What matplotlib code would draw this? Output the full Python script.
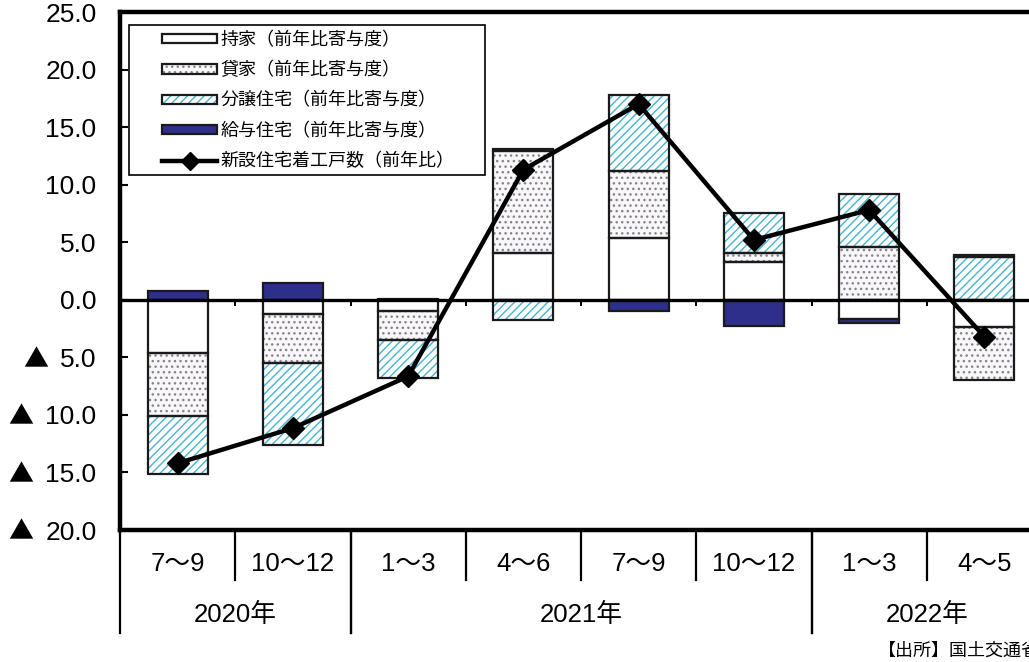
import numpy as np
import matplotlib
matplotlib.use("Agg")
import matplotlib.pyplot as plt
from matplotlib.patches import Patch, Rectangle
from matplotlib.lines import Line2D

plt.rcParams['font.family'] = ['Liberation Sans', 'Noto Sans CJK JP', 'DejaVu Sans']
plt.rcParams['hatch.linewidth'] = 1.0

# 四半期ごとの寄与度（%ポイント）
periods = ['7～9', '10～12', '1～3', '4～6', '7～9', '10～12', '1～3', '4～5']
years = ['2020年', '2021年', '2022年']
year_spans = [(-0.5, 1.5), (1.5, 5.5), (5.5, 7.5)]

owner = np.array([-4.6, -1.25, -1.0, 4.1, 5.4, 3.3, -1.7, -2.4])
rental = np.array([-5.5, -4.2, -2.5, 8.8, 5.8, 0.8, 4.6, -4.6])
condo = np.array([-5.0, -7.2, -3.3, -1.8, 6.6, 3.4, 4.6, 3.7])
company = np.array([0.8, 1.45, 0.1, 0.2, -0.95, -2.3, -0.3, 0.2])
starts = np.array([-14.2, -11.15, -6.65, 11.3, 17.0, 5.2, 7.8, -3.2])

yticks = [-20, -15, -10, -5, 0, 5, 10, 15, 20, 25]

series = [
    ('持家（前年比寄与度）', owner, 'white', None, 'white'),
    ('貸家（前年比寄与度）', rental, '#faf7fc', '...', '#858585'),
    ('分譲住宅（前年比寄与度）', condo, 'white', '////', '#45b4d0'),
    ('給与住宅（前年比寄与度）', company, '#2e2f8a', None, '#2e2f8a'),
]

W, H = 1029, 662
fig = plt.figure(figsize=(W / 100, H / 100), dpi=100)
ax = fig.add_axes([120 / W, 132 / H, 922 / W, 518 / H])

x = np.arange(len(periods))
bw = 0.52
edge = '#1a1a1a'
pos = np.zeros(len(x))
neg = np.zeros(len(x))
handles = []
for label, vals, face, hatch, hcol in series:
    base = np.where(vals >= 0, pos, neg)
    ax.bar(x, vals, bw, bottom=base, color=face, hatch=hatch,
           edgecolor=hcol, linewidth=0, zorder=2)
    ax.bar(x, vals, bw, bottom=base, fill=False, edgecolor=edge,
           linewidth=1.6, zorder=2.5)
    pos += np.where(vals >= 0, vals, 0)
    neg += np.where(vals < 0, vals, 0)
    handles.append((Patch(facecolor=face, hatch=hatch, edgecolor=hcol, linewidth=0),
                    Patch(fill=False, edgecolor=edge, linewidth=1.6)))

ax.axhline(0, color='black', lw=2.4, zorder=3)
ax.vlines(np.arange(0.5, 7.0, 1.0), -0.5, 0, color='black', lw=1.4, zorder=3)
ax.plot(x, starts, color='black', lw=3.2, marker='D', markersize=11, zorder=4)

ax.set_xlim(-0.5, 7.5)
ax.set_ylim(-20, 25)
ax.set_yticks(yticks)
ax.set_yticklabels([f'{abs(v):.1f}' for v in yticks], fontsize=19)
ax.tick_params(axis='y', direction='in', length=6, width=1.5, pad=17)
ax.set_xticks([])
for s in ax.spines.values():
    s.set_linewidth(3.2)

# 期間と年の二段ラベル
tr = ax.get_xaxis_transform()
for xi, p in zip(x, periods):
    ax.text(xi, -0.066, p, transform=tr, ha='center', va='center', fontsize=18.5)
for b in [0.5, 2.5, 3.5, 4.5, 6.5]:
    ax.plot([b, b], [0, -0.0965], transform=tr, color='black', lw=1.6, clip_on=False)
for yr, (a, b) in zip(years, year_spans):
    ax.text((a + b) / 2, -0.164, yr, transform=tr, ha='center', va='center', fontsize=18.5)
    for v in (a, b):
        ax.plot([v, v], [0, -0.199], transform=tr, color='black', lw=1.6, clip_on=False)

# 凡例
ax.add_patch(Rectangle((129 / W, 1 - 175 / H), 356 / W, 150 / H, transform=fig.transFigure,
                       facecolor='white', edgecolor='black', lw=1.2, zorder=5, clip_on=False))
handles.append(Line2D([], [], color='black', lw=3.2, marker='D', markersize=9))
labels = [s[0] for s in series] + ['新設住宅着工戸数（前年比）']
leg = ax.legend(handles, labels, loc='upper left', bbox_to_anchor=(162 / W, 1 - 32 / H),
                bbox_transform=fig.transFigure, frameon=False, borderpad=0, borderaxespad=0,
                fontsize=13, handlelength=3.05, handleheight=0.42, handletextpad=0.2,
                labelspacing=0.72)
leg.set_zorder(6)

fig.text(878 / W, 1 - 651 / H, '【出所】国土交通省', fontsize=13,
         ha='left', va='center')

# マイナス値の目盛りには▲を付ける
fig.canvas.draw()
inv = fig.transFigure.inverted()
for v, tl in zip(yticks, ax.get_yticklabels()):
    if v < 0:
        bb = tl.get_window_extent()
        fx, fy = inv.transform((bb.x0 - 12, (bb.y0 + bb.y1) / 2))
        fig.text(fx, fy, '▲', fontsize=18, family='Noto Sans CJK JP',
                 ha='right', va='center')

fig.savefig('out.png', dpi=100)
